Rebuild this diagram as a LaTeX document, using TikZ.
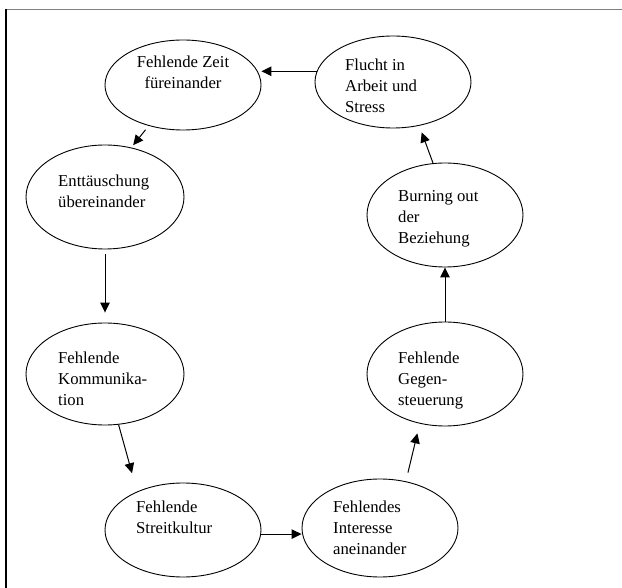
\documentclass[tikz,border=0pt]{standalone}
\usepackage{fontspec}
\setmainfont{Liberation Serif}
\usetikzlibrary{arrows.meta,shapes.geometric}

\begin{document}
\begin{tikzpicture}[x=1pt,y=-1pt,font=\fontsize{16.7}{21.3}\selectfont,>={Triangle[length=10pt,width=9.5pt]},
    loopellipse/.style={draw,ellipse,line width=0.9pt,inner sep=0pt,minimum width=156pt,minimum height=92pt},
    looptext/.style={anchor=north west,inner sep=0pt,align=left},
    looparrow/.style={->,line width=1pt}]
  \useasboundingbox (0,0) rectangle (622,588);
  % frame
  \draw[gray,line width=1pt] (6,9.5) -- (622,9.5);
  \draw[line width=1.5pt] (6,9.5) -- (6,588);
  % circle of states
  \node[loopellipse,minimum height=90pt] (zeit) at (183,85) {};
  \node[loopellipse] (flucht) at (393,82) {};
  \node[loopellipse,minimum width=158pt,minimum height=104pt] (entt) at (105,197) {};
  \node[loopellipse,minimum height=104pt] (burn) at (445,215) {};
  \node[loopellipse,minimum width=158pt,minimum height=102pt] (komm) at (105,374) {};
  \node[loopellipse,minimum height=104pt] (gegen) at (445,374) {};
  \node[loopellipse,minimum height=94pt] (streit) at (183,530) {};
  \node[loopellipse,minimum height=98pt] (inter) at (380,528) {};
  % texts
  \node[looptext,anchor=north,align=center] (zeittext) at (183,55.6) {Fehlende Zeit\\füreinander};
  \node[looptext] (fluchttext) at (345,58.6) {Flucht in\\Arbeit und\\Stress};
  \node[looptext] (entttext) at (58,174.6) {Enttäuschung\\übereinander};
  \node[looptext] (burntext) at (398,190) {Burning out\\der\\Beziehung};
  \node[looptext] (kommtext) at (58,351.6) {Fehlende\\Kommunika-\\tion};
  \node[looptext] (gegentext) at (398,351.6) {Fehlende\\Gegen-\\steuerung};
  \node[looptext] (streittext) at (136,500.6) {Fehlende\\Streitkultur};
  \node[looptext] (intertext) at (333,500.6) {Fehlendes\\Interesse\\aneinander};
  % arrows
  \draw[looparrow] (flucht.172) -- (zeit.east |- flucht.172);
  \draw[looparrow,shorten <=5pt,shorten >=3pt] (zeit.230) -- (entt.62);
  \draw[looparrow,shorten <=5pt,shorten >=10pt] (entt.south) -- (komm.north);
  \draw[looparrow,shorten >=19pt] (komm.285) -- (streit.140);
  \draw[looparrow] (streit.357) -- (inter.west |- streit.357);
  \draw[looparrow,shorten <=9pt,shorten >=10pt] (inter.61) -- (gegen.243);
  \draw[looparrow] (gegen.north) -- (burn.south);
  \draw[looparrow,shorten >=7pt] (burn.103) -- (flucht.301);
\end{tikzpicture}
\end{document}
